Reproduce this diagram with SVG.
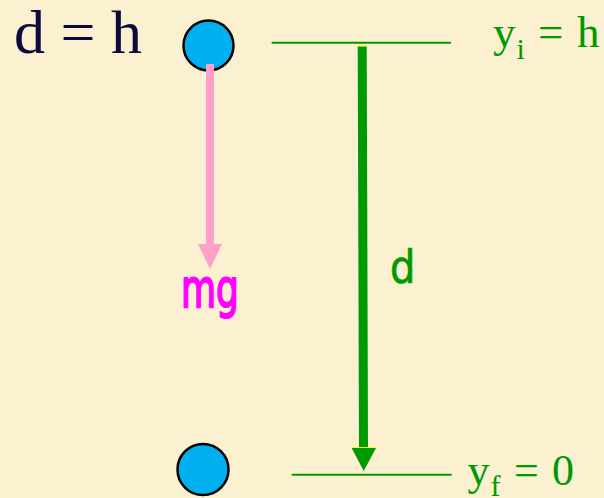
<svg xmlns="http://www.w3.org/2000/svg" width="604" height="498" viewBox="0 0 604 498">
  <style>
    .ball { fill: #00B0F0; stroke: #000000; stroke-width: 2.5; }
    .level { stroke: #009900; stroke-width: 2; fill: none; }
    .serif { font-family: "Liberation Serif", "Times New Roman", serif; }
    .green { fill: #009900; }
    .hand { font-family: "Comic Sans MS", "DejaVu Sans", sans-serif; }
  </style>
  <rect x="0" y="0" width="604" height="498" fill="#FBF0CF"/>

  <g id="title">
    <text class="serif" x="14" y="53" font-size="62" fill="#0A0A3C">d = h</text>
  </g>

  <g id="ball-top">
    <circle class="ball" cx="208.5" cy="45.5" r="25"/>
  </g>
  <g id="ball-bottom">
    <circle class="ball" cx="203" cy="469.5" r="25.5"/>
  </g>

  <g id="connectors">
    <!-- weight arrow -->
    <g id="arrow-mg">
      <rect x="206" y="64" width="8" height="181" fill="#FFA0C8"/>
      <polygon points="198,244 222,244 210,269" fill="#FFA0C8"/>
    </g>
    <!-- displacement arrow -->
    <g id="arrow-d">
      <line x1="362.2" y1="46" x2="363.5" y2="449" stroke="#009900" stroke-width="9"/>
      <line x1="357.7" y1="46" x2="366.7" y2="46" stroke="#FFFF00" stroke-width="1.2"/>
      <line x1="352" y1="447.6" x2="376" y2="447.6" stroke="#FFFF00" stroke-width="1.2"/>
      <polygon points="351.7,448 376,448 363.7,471" fill="#009900"/>
    </g>
  </g>

  <g id="level-initial">
    <line class="level" x1="271.7" y1="42.7" x2="451" y2="42.7"/>
    <text class="serif green" font-size="45"><tspan x="493" y="47">y</tspan><tspan x="516.5" y="59" font-size="30">i</tspan><tspan x="538" y="47">=</tspan><tspan x="577" y="47">h</tspan></text>
  </g>

  <g id="level-final">
    <line class="level" x1="291.7" y1="474.7" x2="451.7" y2="474.7"/>
    <text class="serif green" font-size="44"><tspan x="467.5" y="485">y</tspan><tspan x="490.5" y="496" font-size="30">f</tspan><tspan x="514" y="485">=</tspan><tspan x="552" y="485">0</tspan></text>
  </g>

  <g id="label-mg">
    <text class="hand" transform="scale(1,1.5)" x="181" y="204.67" font-size="36" fill="#FF00FF" stroke="#FF00FF" stroke-width="1.4" stroke-linejoin="round">mg</text>
  </g>

  <g id="label-d">
    <text class="hand" transform="scale(1,1.15)" x="390" y="246.1" font-size="40" fill="#009900" stroke="#009900" stroke-width="0.6">d</text>
  </g>
</svg>
